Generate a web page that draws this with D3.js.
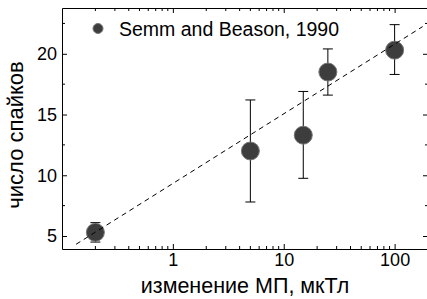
<!DOCTYPE html>
<html>
<head>
<meta charset="utf-8">
<script src="https://cdn.jsdelivr.net/npm/d3@7"></script>
<style>
  body { margin: 0; background: #fff; }
  svg { display: block; font-family: "Liberation Sans", Arial, sans-serif; }
</style>
</head>
<body>
<div id="chart"></div>
<script>
// data
const fieldChange = [0.2, 5, 15, 25, 100];          // мкТл
const spikeCount = [5.3, 12.0, 13.3, 18.5, 20.3];
const errLow = [4.5, 7.8, 9.75, 16.6, 18.3];
const errHigh = [6.1, 16.2, 16.9, 20.4, 22.4];
const fitX = [0.134, 179];
const fitY = [4.32, 22.24];
const xTicks = [1, 10, 100];
const yTicks = [5, 10, 15, 20];
const yMinor = [7.5, 12.5, 17.5, 22.5];
const legendLabel = "Semm and Beason, 1990";

const W = 427, H = 299;
const m = { left: 62, top: 8, right: 428, bottom: 249 };

const svg = d3.select("#chart").append("svg")
  .attr("width", W).attr("height", H);

const x = d3.scaleLog().domain([0.1, 200]).range([m.left, m.right]);
const y = d3.scaleLinear().domain([3.93, 23.77]).range([m.bottom, m.top]);

// minor ticks on log axis: 2..9 of each decade
const xMinor = [];
[0.1, 1, 10, 100].forEach(d => {
  for (let k = 2; k <= 9; k++) {
    const v = d * k;
    if (v < 200) xMinor.push(v);
  }
});

const frame = svg.append("g");

// bottom axis
const xb = frame.append("g").attr("transform", `translate(0,${m.bottom})`)
  .call(d3.axisBottom(x).tickValues(xTicks).tickFormat(d3.format("d"))
    .tickSizeInner(-5).tickSizeOuter(0).tickPadding(4));
xb.append("g").selectAll("line").data(xMinor).join("line")
  .attr("x1", d => x(d)).attr("x2", d => x(d))
  .attr("y1", 0).attr("y2", -3).attr("stroke", "#000");

// top axis
const xt = frame.append("g").attr("transform", `translate(0,${m.top})`)
  .call(d3.axisTop(x).tickValues(xTicks).tickFormat("")
    .tickSizeInner(-5).tickSizeOuter(0));
xt.append("g").selectAll("line").data(xMinor).join("line")
  .attr("x1", d => x(d)).attr("x2", d => x(d))
  .attr("y1", 0).attr("y2", 3).attr("stroke", "#000");

// left axis
const yl = frame.append("g").attr("transform", `translate(${m.left},0)`)
  .call(d3.axisLeft(y).tickValues(yTicks)
    .tickSizeInner(-5).tickSizeOuter(0).tickPadding(5));
yl.append("g").selectAll("line").data(yMinor).join("line")
  .attr("y1", d => y(d)).attr("y2", d => y(d))
  .attr("x1", 0).attr("x2", 3).attr("stroke", "#000");

// right axis
const yr = frame.append("g").attr("transform", `translate(${m.right},0)`)
  .call(d3.axisRight(y).tickValues(yTicks).tickFormat("")
    .tickSizeInner(-5).tickSizeOuter(0));
yr.append("g").selectAll("line").data(yMinor).join("line")
  .attr("y1", d => y(d)).attr("y2", d => y(d))
  .attr("x1", 0).attr("x2", -3).attr("stroke", "#000");

frame.selectAll(".domain").attr("stroke", "#000");
frame.selectAll(".tick line").attr("stroke", "#000");
frame.selectAll(".tick text")
  .attr("font-size", 18).attr("fill", "#000")
  .attr("font-family", "'Liberation Sans', Arial, sans-serif");

const pts = fieldChange.map((v, i) => ({
  x: v, y: spikeCount[i], lo: errLow[i], hi: errHigh[i]
}));

// error bars
const eb = svg.append("g").attr("stroke", "#000").attr("stroke-width", 1);
eb.selectAll(".v").data(pts).join("line")
  .attr("x1", d => x(d.x)).attr("x2", d => x(d.x))
  .attr("y1", d => y(d.lo)).attr("y2", d => y(d.hi));
eb.selectAll(".ch").data(pts).join("line")
  .attr("x1", d => x(d.x) - 5).attr("x2", d => x(d.x) + 5)
  .attr("y1", d => y(d.hi)).attr("y2", d => y(d.hi));
eb.selectAll(".cl").data(pts).join("line")
  .attr("x1", d => x(d.x) - 5).attr("x2", d => x(d.x) + 5)
  .attr("y1", d => y(d.lo)).attr("y2", d => y(d.lo));

// markers
svg.append("g").selectAll("circle").data(pts).join("circle")
  .attr("cx", d => x(d.x)).attr("cy", d => y(d.y)).attr("r", 9)
  .attr("fill", "#3d3d3d").attr("stroke", "#777").attr("stroke-width", 1);

// fit line
const fit = fitX.map((v, i) => ({ x: v, y: fitY[i] }));
svg.append("path").datum(fit)
  .attr("d", d3.line().x(d => x(d.x)).y(d => y(d.y)))
  .attr("fill", "none").attr("stroke", "#000").attr("stroke-width", 1)
  .attr("stroke-dasharray", "5,4");

// legend
svg.append("circle").attr("cx", 98).attr("cy", 28.5).attr("r", 5)
  .attr("fill", "#3d3d3d").attr("stroke", "#777").attr("stroke-width", 1);
svg.append("text").attr("x", 119).attr("y", 35.5)
  .attr("font-size", 19.5).text(legendLabel);

// axis titles
svg.append("text")
  .attr("x", (m.left + m.right) / 2).attr("y", 293)
  .attr("text-anchor", "middle").attr("font-size", 21.5)
  .text("изменение МП, мкТл");
svg.append("text")
  .attr("transform", "translate(23,135) rotate(-90)")
  .attr("text-anchor", "middle").attr("font-size", 22)
  .text("число спайков");
</script>
</body>
</html>
